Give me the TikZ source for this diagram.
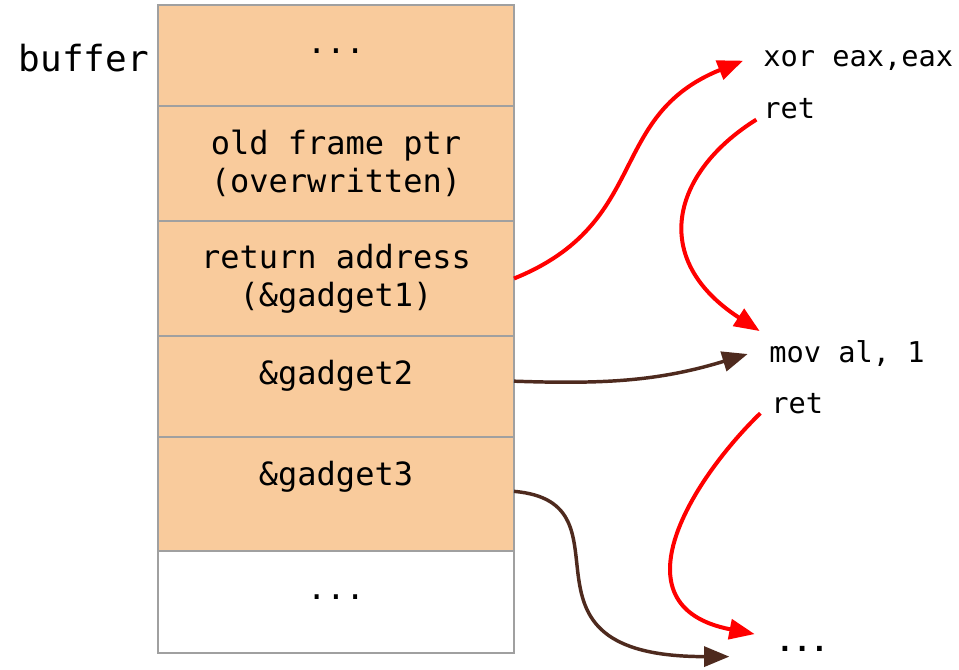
\documentclass[tikz,border=0pt]{standalone}
\usepackage{fontspec}
\setmonofont{DejaVu Sans Mono}
\usetikzlibrary{arrows.meta,positioning}
\definecolor{slotfill}{HTML}{F9CB9C}
\definecolor{slotline}{HTML}{A0A0A0}
\definecolor{ropred}{HTML}{FF0000}
\definecolor{ropbrown}{HTML}{4E2A1E}

\begin{document}
\begin{tikzpicture}[x=0.75pt, y=-0.75pt, node distance=0pt]
  \tikzstyle{slot}=[rectangle, draw=slotline, fill=slotfill, line width=1.2pt, minimum width=267pt, inner sep=4pt, outer sep=0pt, align=center, font=\ttfamily\fontsize{24}{28.5}\selectfont]
  \tikzstyle{topline}=[text height=32pt]
  \tikzstyle{asm}=[inner sep=0pt, anchor=base west, text height=16pt, text depth=4pt, font=\ttfamily\fontsize{21.5}{24}\selectfont]
  \tikzstyle{retflow}=[line width=3pt, draw=ropred, -{Triangle[length=19pt, width=15pt]}]
  \tikzstyle{slotptr}=[line width=2.6pt, draw=ropbrown, -{Triangle[length=19pt, width=15pt]}]

  \useasboundingbox (0,0) rectangle (959,669);

  % Stack slots (top to bottom)
  \node[slot, topline, text depth=35.75pt, minimum height=75.75pt, anchor=north west] (pad) at (158,5) {...};
  \node[slot, minimum height=86.25pt, below=of pad] (oldfp) {old frame ptr\\(overwritten)};
  \node[slot, minimum height=86.25pt, below=of oldfp] (retaddr) {return address\\(\&gadget1)};
  \node[slot, topline, text depth=35.75pt, minimum height=75.75pt, below=of retaddr] (g2) {\&gadget2};
  \node[slot, topline, text depth=45.5pt, minimum height=85.5pt, below=of g2] (g3) {\&gadget3};
  \node[slot, topline, text depth=36.5pt, minimum height=76.5pt, fill=white, below=of g3] (rest) {...};

  \node[anchor=base east, inner sep=0pt, font=\ttfamily\fontsize{27}{30}\selectfont] (buf) at (149,71) {buffer};

  % Gadgets
  \node[asm] (xor) at (763,66) {xor eax,eax};
  \node[asm] (ret1) at (763,118) {ret};
  \node[asm] (mov) at (769,362) {mov al, 1};
  \node[asm] (ret2) at (771,413) {ret};
  \node[asm, font=\ttfamily\bfseries\fontsize{21.5}{24}\selectfont] (more) at (776,651) {...};

  % Control flow
  \draw[retflow] (retaddr.east) to[out=22, in=202, looseness=1.2] ([xshift=-15pt, yshift=-2pt]xor.west);
  \draw[retflow] ([xshift=-5pt, yshift=3pt]ret1.south west) to[out=212, in=147, out looseness=1.2, in looseness=1.6] ([xshift=-7pt, yshift=7pt]mov.north west);
  \draw[slotptr] ([yshift=4pt]g2.east) to[out=-2, in=197] ([xshift=-16pt]mov.west);
  \draw[slotptr] ([yshift=2pt]g3.east) to[out=-5, in=180, out looseness=1.2, in looseness=2.2] ([xshift=-35pt]more.south west);
  \draw[retflow] ([xshift=-8pt, yshift=4pt]ret2.south west) to[out=224, in=169, out looseness=1.05, in looseness=1.7] ([xshift=-16pt, yshift=-3.5pt]more.north west);
\end{tikzpicture}
\end{document}
